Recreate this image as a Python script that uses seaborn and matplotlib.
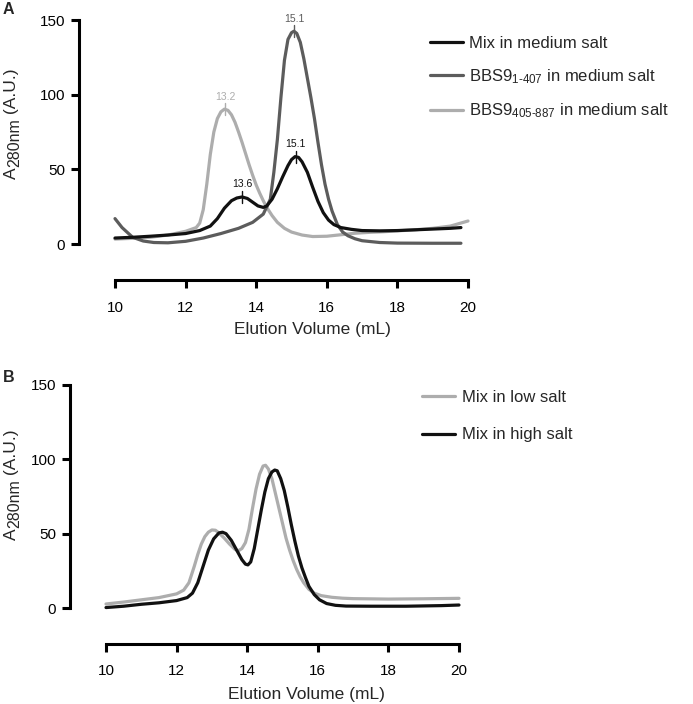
import numpy as np
import pandas as pd
import matplotlib
matplotlib.use("Agg")
import matplotlib.pyplot as plt
import seaborn as sns

# ---- data ----
# Panel A
mix_med_x = [10.0, 10.5, 11.0, 11.5, 12.0, 12.4, 12.7, 12.9, 13.1, 13.3, 13.45, 13.6, 13.75, 13.9, 14.05,
             14.2, 14.3, 14.45, 14.6, 14.75, 14.9, 15.0, 15.1, 15.2, 15.3, 15.45, 15.6, 15.75, 15.9, 16.05,
             16.2, 16.4, 16.7, 17.0, 17.5, 18.0, 18.5, 19.0, 19.5, 19.8]
mix_med_y = [4, 4.5, 5.2, 6, 7, 9, 12, 17, 24, 29, 30.8, 31.5, 30.5, 28, 25.5,
             24.5, 25.5, 30, 37, 45, 52.5, 56.5, 58.5, 58, 55, 48, 38, 28.5, 21, 16,
             13, 11, 9.8, 9, 8.8, 9, 9.5, 10, 10.5, 11]

n_term_x = [10.0, 10.2, 10.5, 10.8, 11.1, 11.5, 12.0, 12.5, 13.0, 13.5, 13.9, 14.2, 14.4, 14.5, 14.6, 14.7,
            14.8, 14.9, 15.0, 15.07, 15.15, 15.25, 15.35, 15.45, 15.55, 15.65, 15.75, 15.85, 15.95, 16.05,
            16.15, 16.3, 16.45, 16.6, 16.8, 17.0, 17.5, 18.0, 19.0, 19.8]
n_term_y = [17, 11, 4.5, 2, 1, 0.8, 1.8, 4, 7, 10.5, 14.5, 20, 30, 48, 70, 98,
            123, 137, 141.5, 142.5, 141, 135, 124, 111, 98, 84, 68, 53, 40, 30,
            22, 13, 8, 5.5, 3.5, 2.2, 1, 0.6, 0.5, 0.5]

c_term_x = [10.0, 10.5, 11.0, 11.5, 12.0, 12.3, 12.4, 12.5, 12.6, 12.7, 12.8, 12.9, 13.0, 13.1, 13.2, 13.3,
            13.4, 13.5, 13.6, 13.7, 13.8, 13.9, 14.0, 14.1, 14.2, 14.3, 14.45, 14.6, 14.8, 15.0, 15.3,
            15.6, 16.0, 16.4, 16.8, 17.2, 17.6, 18.0, 18.5, 19.0, 19.5, 20.0]
c_term_y = [3.3, 3.8, 4.5, 6, 8.5, 11, 14, 23, 40, 60, 75, 84, 88.5, 90.3, 89.5, 86.5,
            81.5, 75, 68, 60.5, 53, 46, 39.5, 34, 29, 24.5, 19, 14.5, 10.5, 8, 6,
            5, 5.2, 6.2, 7.2, 7.8, 8.2, 8.8, 9.5, 10.5, 12, 15.4]

# Panel B
low_x = [10.0, 10.5, 11.0, 11.5, 12.0, 12.2, 12.35, 12.5, 12.6, 12.7, 12.8, 12.9, 13.0, 13.1, 13.2, 13.35,
         13.5, 13.65, 13.75, 13.85, 13.95, 14.05, 14.15, 14.25, 14.35, 14.45, 14.52, 14.6, 14.7, 14.8,
         14.9, 15.0, 15.1, 15.2, 15.3, 15.4, 15.5, 15.6, 15.75, 15.9, 16.1, 16.4, 16.7, 17.0,
         18.0, 19.0, 20.0]
low_y = [2.7, 4, 5.5, 7, 9.5, 12, 17, 28, 36, 43, 48, 51, 52.5, 52.3, 50.5, 47,
         43, 39.5, 38.5, 40, 44, 53, 67, 80, 90, 95.5, 96, 93.5, 87, 77,
         67, 57, 47, 39, 32, 26, 21, 17, 12.5, 10, 8.3, 7.2, 6.6, 6.3,
         6, 6.2, 6.5]

high_x = [10.0, 10.5, 11.0, 11.5, 12.0, 12.3, 12.45, 12.6, 12.75, 12.9, 13.05, 13.2, 13.3, 13.4, 13.55, 13.7,
          13.85, 13.95, 14.02, 14.1, 14.2, 14.3, 14.4, 14.5, 14.6, 14.7, 14.78, 14.85, 14.95, 15.05,
          15.15, 15.25, 15.35, 15.45, 15.55, 15.65, 15.75, 15.9, 16.05, 16.25, 16.5, 16.8,
          17.5, 18.5, 19.5, 20.0]
high_y = [0.3, 1.2, 2.5, 3.5, 5, 7, 10, 17, 28, 39, 46.5, 50.5, 51, 50, 45.5, 39,
          32.5, 29.5, 29, 31, 40, 53, 66, 78, 87, 91.5, 92.8, 92.3, 87, 79,
          68, 56, 45, 35, 27, 20.5, 14.5, 9, 5.5, 3, 1.8, 1.3,
          1.2, 1.2, 1.6, 2]

labels_a = ["Mix in medium salt",
            r"BBS9$_{\text{1-407}}$ in medium salt",
            r"BBS9$_{\text{405-887}}$ in medium salt"]
labels_b = ["Mix in low salt", "Mix in high salt"]

# peak annotations: volume, height, label, colour index
peaks_a = [(15.07, 142.5, "15.1", 1), (13.12, 90.3, "13.2", 2),
           (13.6, 31.5, "13.6", 0), (15.12, 58.5, "15.1", 0)]

BLACK, DARK, LIGHT = "#111111", "#5c5c5c", "#adadad"
W, H = 693, 704

df_a = pd.concat([
    pd.DataFrame({"vol": mix_med_x, "abs": mix_med_y, "sample": labels_a[0]}),
    pd.DataFrame({"vol": n_term_x, "abs": n_term_y, "sample": labels_a[1]}),
    pd.DataFrame({"vol": c_term_x, "abs": c_term_y, "sample": labels_a[2]}),
])
df_b = pd.concat([
    pd.DataFrame({"vol": low_x, "abs": low_y, "sample": labels_b[0]}),
    pd.DataFrame({"vol": high_x, "abs": high_y, "sample": labels_b[1]}),
])

sns.set_theme(style="ticks")
plt.rcParams["font.family"] = ["Liberation Sans", "DejaVu Sans"]
plt.rcParams["mathtext.fontset"] = "custom"
plt.rcParams["mathtext.rm"] = "Liberation Sans"
plt.rcParams["mathtext.it"] = "Liberation Sans:italic"

fig = plt.figure(figsize=(W / 100, H / 100), dpi=100)
ax_a = fig.add_axes([115 / W, 1 - 244 / H, 353 / W, 224 / H])
ax_b = fig.add_axes([106 / W, 1 - 608 / H, 353 / W, 223 / H])

pal_a = dict(zip(labels_a, [BLACK, DARK, LIGHT]))
pal_b = dict(zip(labels_b, [LIGHT, BLACK]))

# draw lighter curves first so the black one sits on top
sns.lineplot(data=df_a, x="vol", y="abs", hue="sample", hue_order=labels_a[::-1], palette=pal_a,
             sort=False, linewidth=2.3, ax=ax_a, clip_on=False)
sns.lineplot(data=df_b, x="vol", y="abs", hue="sample", hue_order=labels_b, palette=pal_b,
             sort=False, linewidth=2.3, ax=ax_b, clip_on=False)

colors = [BLACK, DARK, LIGHT]
for vol, h, txt, ci in peaks_a:
    ax_a.plot([vol, vol], [h - 4, h + 4], color=colors[ci], lw=1.0, clip_on=False)
    ax_a.text(vol, h + 5, txt, ha="center", va="bottom", fontsize=7.5, color=colors[ci])

for ax in (ax_a, ax_b):
    ax.set_xlim(10, 20)
    ax.set_ylim(0, 150)
    ax.set_xticks([10, 12, 14, 16, 18, 20])
    ax.set_yticks([0, 50, 100, 150])
    sns.despine(ax=ax, offset=26)
    ax.spines["left"].set_bounds(0, 150)
    ax.spines["bottom"].set_bounds(10, 20)
    for s in ("left", "bottom"):
        ax.spines[s].set_linewidth(2.2)
        ax.spines[s].set_color("black")
    ax.tick_params(width=2.2, length=6, labelsize=11, colors="black")
    ax.tick_params(axis="y", pad=4)
    ax.set_xlabel("Elution Volume (mL)", fontsize=12.5)
    ax.set_ylabel("")

ax_a.tick_params(axis="x", pad=9)
ax_b.tick_params(axis="x", pad=8.5)
ax_a.xaxis.set_label_coords(0.558, -0.35)
ax_b.xaxis.set_label_coords(0.569, -0.355)


# y label "A280nm (A.U.)" with a large, slightly lowered subscript, built from rotated pieces
def y_label(right_px, bottom_px):
    renderer = fig.canvas.get_renderer()
    pieces = [("A", 12.5, 0), ("280nm", 11.5, 3), (" (A.U.)", 12.5, 0)]
    y = bottom_px
    for txt, size, shift in pieces:
        t = fig.text((right_px + shift) / W, 1 - y / H, txt, rotation=90, fontsize=size,
                     ha="right", va="bottom")
        bb = t.get_window_extent(renderer)
        y -= bb.height


y_label(19, 179)
y_label(19, 540)

# legends
h_a, l_a = ax_a.get_legend_handles_labels()
order = [l_a.index(l) for l in labels_a]
ax_a.legend([h_a[i] for i in order], labels_a, loc="upper left",
            bbox_to_anchor=(430 / W, 1 - 36 / H), bbox_transform=fig.transFigure,
            frameon=False, fontsize=12, handlelength=2.0, handletextpad=0.35,
            labelspacing=0.95, borderpad=0, borderaxespad=0)
sns.move_legend(ax_b, "upper left", bbox_to_anchor=(422 / W, 1 - 390 / H),
                bbox_transform=fig.transFigure, frameon=False, title=None, fontsize=12,
                handlelength=2.0, handletextpad=0.4, labelspacing=1.35, borderpad=0,
                borderaxespad=0)

fig.text(3 / W, 1 - 2 / H, "A", fontsize=11.5, fontweight="bold", va="top", ha="left")
fig.text(3 / W, 1 - 370 / H, "B", fontsize=11.5, fontweight="bold", va="top", ha="left")

fig.savefig("out.png", dpi=100)
